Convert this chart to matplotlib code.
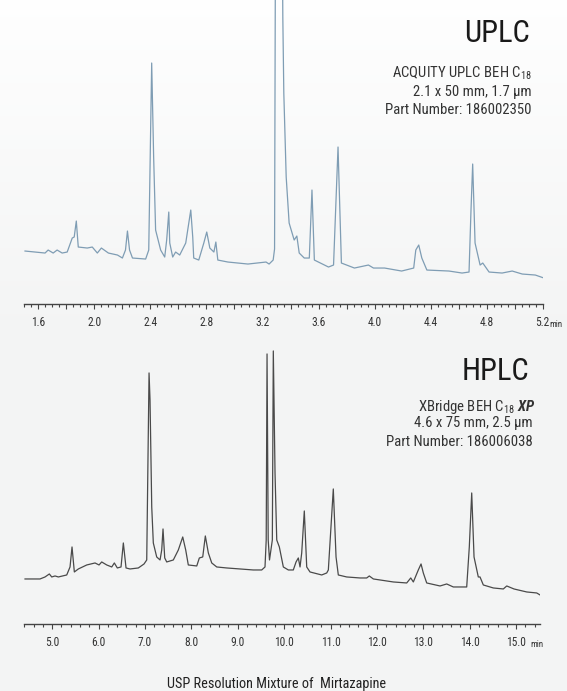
import numpy as np
import matplotlib
matplotlib.use("Agg")
import matplotlib.pyplot as plt
from matplotlib import font_manager
from matplotlib.ticker import FixedLocator, FixedFormatter

# UPLC trace (ACQUITY UPLC BEH C18), vertices
uplc_time = [1.505, 1.648, 1.670, 1.706, 1.734, 1.770, 1.806, 1.842, 1.856, 1.871,
             1.885, 1.949, 1.985, 2.021, 2.050, 2.100, 2.165, 2.200, 2.222, 2.236,
             2.251, 2.272, 2.366, 2.388, 2.409, 2.423, 2.437, 2.473, 2.502, 2.516,
             2.531, 2.538, 2.559, 2.580, 2.609, 2.652, 2.688, 2.702, 2.709, 2.745,
             2.781, 2.802, 2.824, 2.853, 2.867, 2.881, 2.953, 3.096, 3.225, 3.247,
             3.276, 3.286, 3.292, 3.342, 3.345, 3.352, 3.369, 3.390, 3.426, 3.445,
             3.462, 3.498, 3.534, 3.553, 3.570, 3.671, 3.707, 3.739, 3.763, 3.856,
             3.956, 3.992, 4.071, 4.193, 4.279, 4.294, 4.315, 4.337, 4.373, 4.531,
             4.624, 4.674, 4.688, 4.700, 4.717, 4.753, 4.772, 4.817, 4.910, 4.982,
             5.054, 5.147, 5.209]
uplc_signal = [0.53, 0.51, 0.54, 0.51, 0.54, 0.51, 0.52, 0.66, 0.67, 0.83,
               0.57, 0.56, 0.57, 0.51, 0.56, 0.51, 0.49, 0.46, 0.54, 0.73,
               0.54, 0.46, 0.45, 0.54, 2.41, 1.47, 0.74, 0.54, 0.47, 0.64,
               0.92, 0.61, 0.47, 0.52, 0.49, 0.61, 0.94, 0.67, 0.46, 0.44,
               0.61, 0.72, 0.56, 0.52, 0.62, 0.44, 0.42, 0.40, 0.42, 0.40,
               0.44, 0.55, 3.50, 3.50, 2.86, 2.11, 1.27, 0.81, 0.64, 0.68,
               0.51, 0.46, 0.46, 1.14, 0.44, 0.37, 0.39, 1.57, 0.41, 0.36,
               0.39, 0.36, 0.36, 0.33, 0.36, 0.54, 0.59, 0.46, 0.34, 0.33,
               0.31, 0.32, 0.94, 1.40, 0.61, 0.39, 0.41, 0.32, 0.31, 0.33,
               0.30, 0.29, 0.26]

# HPLC trace (XBridge BEH C18 XP)
hplc_time = [4.415, 4.738, 4.846, 4.939, 4.991, 5.062, 5.133, 5.314, 5.385, 5.428,
             5.478, 5.564, 5.745, 5.924, 6.010, 6.068, 6.176, 6.284, 6.340, 6.404,
             6.484, 6.534, 6.592, 6.678, 6.857, 6.980, 7.038, 7.088, 7.109, 7.146,
             7.180, 7.253, 7.325, 7.361, 7.389, 7.426, 7.469, 7.611, 7.719, 7.814,
             7.878, 7.934, 8.116, 8.172, 8.245, 8.301, 8.366, 8.439, 8.547, 8.762,
             9.049, 9.335, 9.516, 9.587, 9.613, 9.631, 9.656, 9.684, 9.745, 9.766,
             9.803, 9.840, 9.896, 9.982, 10.090, 10.197, 10.256, 10.305, 10.342, 10.378,
             10.434, 10.486, 10.557, 10.809, 10.917, 10.952, 11.059, 11.118, 11.167, 11.348,
             11.635, 11.779, 11.835, 11.922, 12.066, 12.353, 12.641, 12.728, 12.784, 12.891,
             12.950, 12.999, 13.072, 13.359, 13.503, 13.646, 13.934, 13.990, 14.042, 14.092,
             14.184, 14.221, 14.292, 14.508, 14.723, 14.797, 14.953, 15.228, 15.443, 15.551]
hplc_signal = [0.45, 0.45, 0.47, 0.50, 0.47, 0.48, 0.47, 0.49, 0.57, 0.77,
               0.52, 0.55, 0.59, 0.61, 0.59, 0.62, 0.59, 0.57, 0.61, 0.56,
               0.57, 0.81, 0.56, 0.55, 0.56, 0.60, 0.64, 2.51, 2.24, 1.17,
               0.81, 0.67, 0.64, 0.74, 0.95, 0.66, 0.62, 0.64, 0.74, 0.87,
               0.74, 0.59, 0.58, 0.66, 0.67, 0.88, 0.71, 0.61, 0.57, 0.56,
               0.55, 0.54, 0.54, 0.57, 0.84, 2.70, 0.84, 0.64, 0.84, 2.73,
               1.51, 0.84, 0.77, 0.57, 0.54, 0.54, 0.62, 0.66, 0.57, 0.71,
               1.13, 0.57, 0.52, 0.49, 0.51, 0.54, 1.35, 0.67, 0.49, 0.47,
               0.46, 0.46, 0.48, 0.45, 0.44, 0.42, 0.41, 0.46, 0.42, 0.54,
               0.60, 0.51, 0.41, 0.38, 0.40, 0.37, 0.37, 0.77, 1.31, 0.67,
               0.47, 0.47, 0.39, 0.36, 0.35, 0.38, 0.35, 0.32, 0.31, 0.28]

uplc_major = [1.6, 1.8, 2.0, 2.2, 2.4, 2.6, 2.8, 3.0, 3.2, 3.4, 3.6, 3.8,
              4.0, 4.2, 4.4, 4.6, 4.8, 5.0, 5.2]
uplc_labels = ["1.6", "", "2.0", "", "2.4", "", "2.8", "", "3.2", "", "3.6", "",
               "4.0", "", "4.4", "", "4.8", "", "5.2"]
hplc_major = [5, 6, 7, 8, 9, 10, 11, 12, 13, 14, 15]
hplc_labels = ["5.0", "6.0", "7.0", "8.0", "9.0", "10.0", "11.0", "12.0",
               "13.0", "14.0", "15.0"]

# pick a condensed face if one is installed, otherwise a regular sans
narrow_fonts = ["Roboto Condensed", "Liberation Sans Narrow", "Open Sans Condensed"]
font_name = None
for name in narrow_fonts:
    try:
        font_manager.findfont(name, fallback_to_default=False)
        font_name = name
        break
    except Exception:
        pass
narrow = font_name is not None
if not narrow:
    font_name = "Roboto"
k = 1.0 if narrow else 0.86   # shrink wide faces so widths match

plt.rcParams["font.family"] = [font_name, "DejaVu Sans"]
plt.rcParams["mathtext.fontset"] = "custom"
plt.rcParams["mathtext.rm"] = font_name
plt.rcParams["mathtext.it"] = font_name + ":italic"
plt.rcParams["mathtext.bf"] = font_name + ":bold"
plt.rcParams["mathtext.bfit"] = font_name + ":italic:bold"

fig = plt.figure(figsize=(5.67, 6.91), dpi=100)
fig.patch.set_facecolor("#f3f4f4")

# soft white-to-grey background
bg = fig.add_axes([0, 0, 1, 1], zorder=-10)
rows = np.linspace(0, 1, 691)
fade = np.clip(rows / 0.5, 0, 1)
top_c = np.array([0.998, 0.998, 0.998])
bot_c = np.array([0.953, 0.957, 0.957])
grad = top_c[None, :] * (1 - fade[:, None]) + bot_c[None, :] * fade[:, None]
bg.imshow(grad[:, None, :], aspect="auto", extent=[0, 1, 0, 1])
bg.axis("off")


def style_axis(ax, xmin, xmax, major, labels, minor_step):
    ax.set_facecolor("none")
    ax.set_xlim(xmin, xmax)
    for s in ["top", "left", "right"]:
        ax.spines[s].set_visible(False)
    ax.spines["bottom"].set_color("#444444")
    ax.spines["bottom"].set_linewidth(1.0)
    ax.set_yticks([])
    ax.xaxis.set_major_locator(FixedLocator(major))
    ax.xaxis.set_major_formatter(FixedFormatter(labels))
    minors = np.arange(xmin, xmax + 1e-6, minor_step)
    ax.xaxis.set_minor_locator(FixedLocator(minors))
    ax.tick_params(axis="x", which="major", direction="out", length=3.8, width=0.8,
                   color="#444444", pad=5.0, labelsize=8.3 * (k + 0.1) / 1.1,
                   labelcolor="#333333")
    ax.tick_params(axis="x", which="minor", direction="out", length=1.9, width=0.8,
                   color="#444444")


# UPLC panel
ax1 = fig.add_axes([0.0429, 0.560, 0.9143, 0.440])
ax1.plot(uplc_time, uplc_signal, color="#7f9db4", lw=0.9)
ax1.set_ylim(0, 3.04)
style_axis(ax1, 1.5, 5.2, uplc_major, uplc_labels, 0.05)

# HPLC panel
ax2 = fig.add_axes([0.0429, 0.0970, 0.9100, 0.4038])
ax2.plot(hplc_time, hplc_signal, color="#4a4a4a", lw=0.9)
ax2.set_ylim(0, 2.79)
style_axis(ax2, 4.4, 15.52, hplc_major, hplc_labels, 0.2)

title_size = 22 * k
sub_size = 10.6 * k

# annotations
fig.text(0.934, 1 - 34 / 691, "UPLC", ha="right", va="center", fontsize=title_size,
         color="#1a1a1a")
fig.text(0.938, 1 - 73 / 691, "ACQUITY UPLC BEH C$_{18}$", ha="right", va="center",
         fontsize=sub_size, color="#333333")
fig.text(0.938, 1 - 91.7 / 691, "2.1 x 50 mm, 1.7 µm", ha="right", va="center",
         fontsize=sub_size, color="#333333")
fig.text(0.938, 1 - 110 / 691, "Part Number: 186002350", ha="right", va="center",
         fontsize=sub_size, color="#333333")

fig.text(0.934, 1 - 371 / 691, "HPLC", ha="right", va="center", fontsize=title_size,
         color="#1a1a1a")
fig.text(0.944, 1 - 406.7 / 691, "XBridge BEH C$_{18}$ $\\mathbfit{XP}$", ha="right",
         va="center", fontsize=sub_size, color="#333333")
fig.text(0.940, 1 - 423.3 / 691, "4.6 x 75 mm, 2.5 µm", ha="right", va="center",
         fontsize=sub_size, color="#333333")
fig.text(0.940, 1 - 441.7 / 691, "Part Number: 186006038", ha="right", va="center",
         fontsize=sub_size, color="#333333")

fig.text(549 / 567, 1 - 324.5 / 691, "min", ha="left", va="center", fontsize=6.5,
         color="#333333")
fig.text(530 / 567, 1 - 644.5 / 691, "min", ha="left", va="center", fontsize=6.5,
         color="#333333")

fig.text(277 / 567, 1 - 684 / 691, "USP Resolution Mixture of  Mirtazapine",
         ha="center", va="center", fontsize=10.3 * k, color="#222222")

fig.savefig("out.png", dpi=100)
